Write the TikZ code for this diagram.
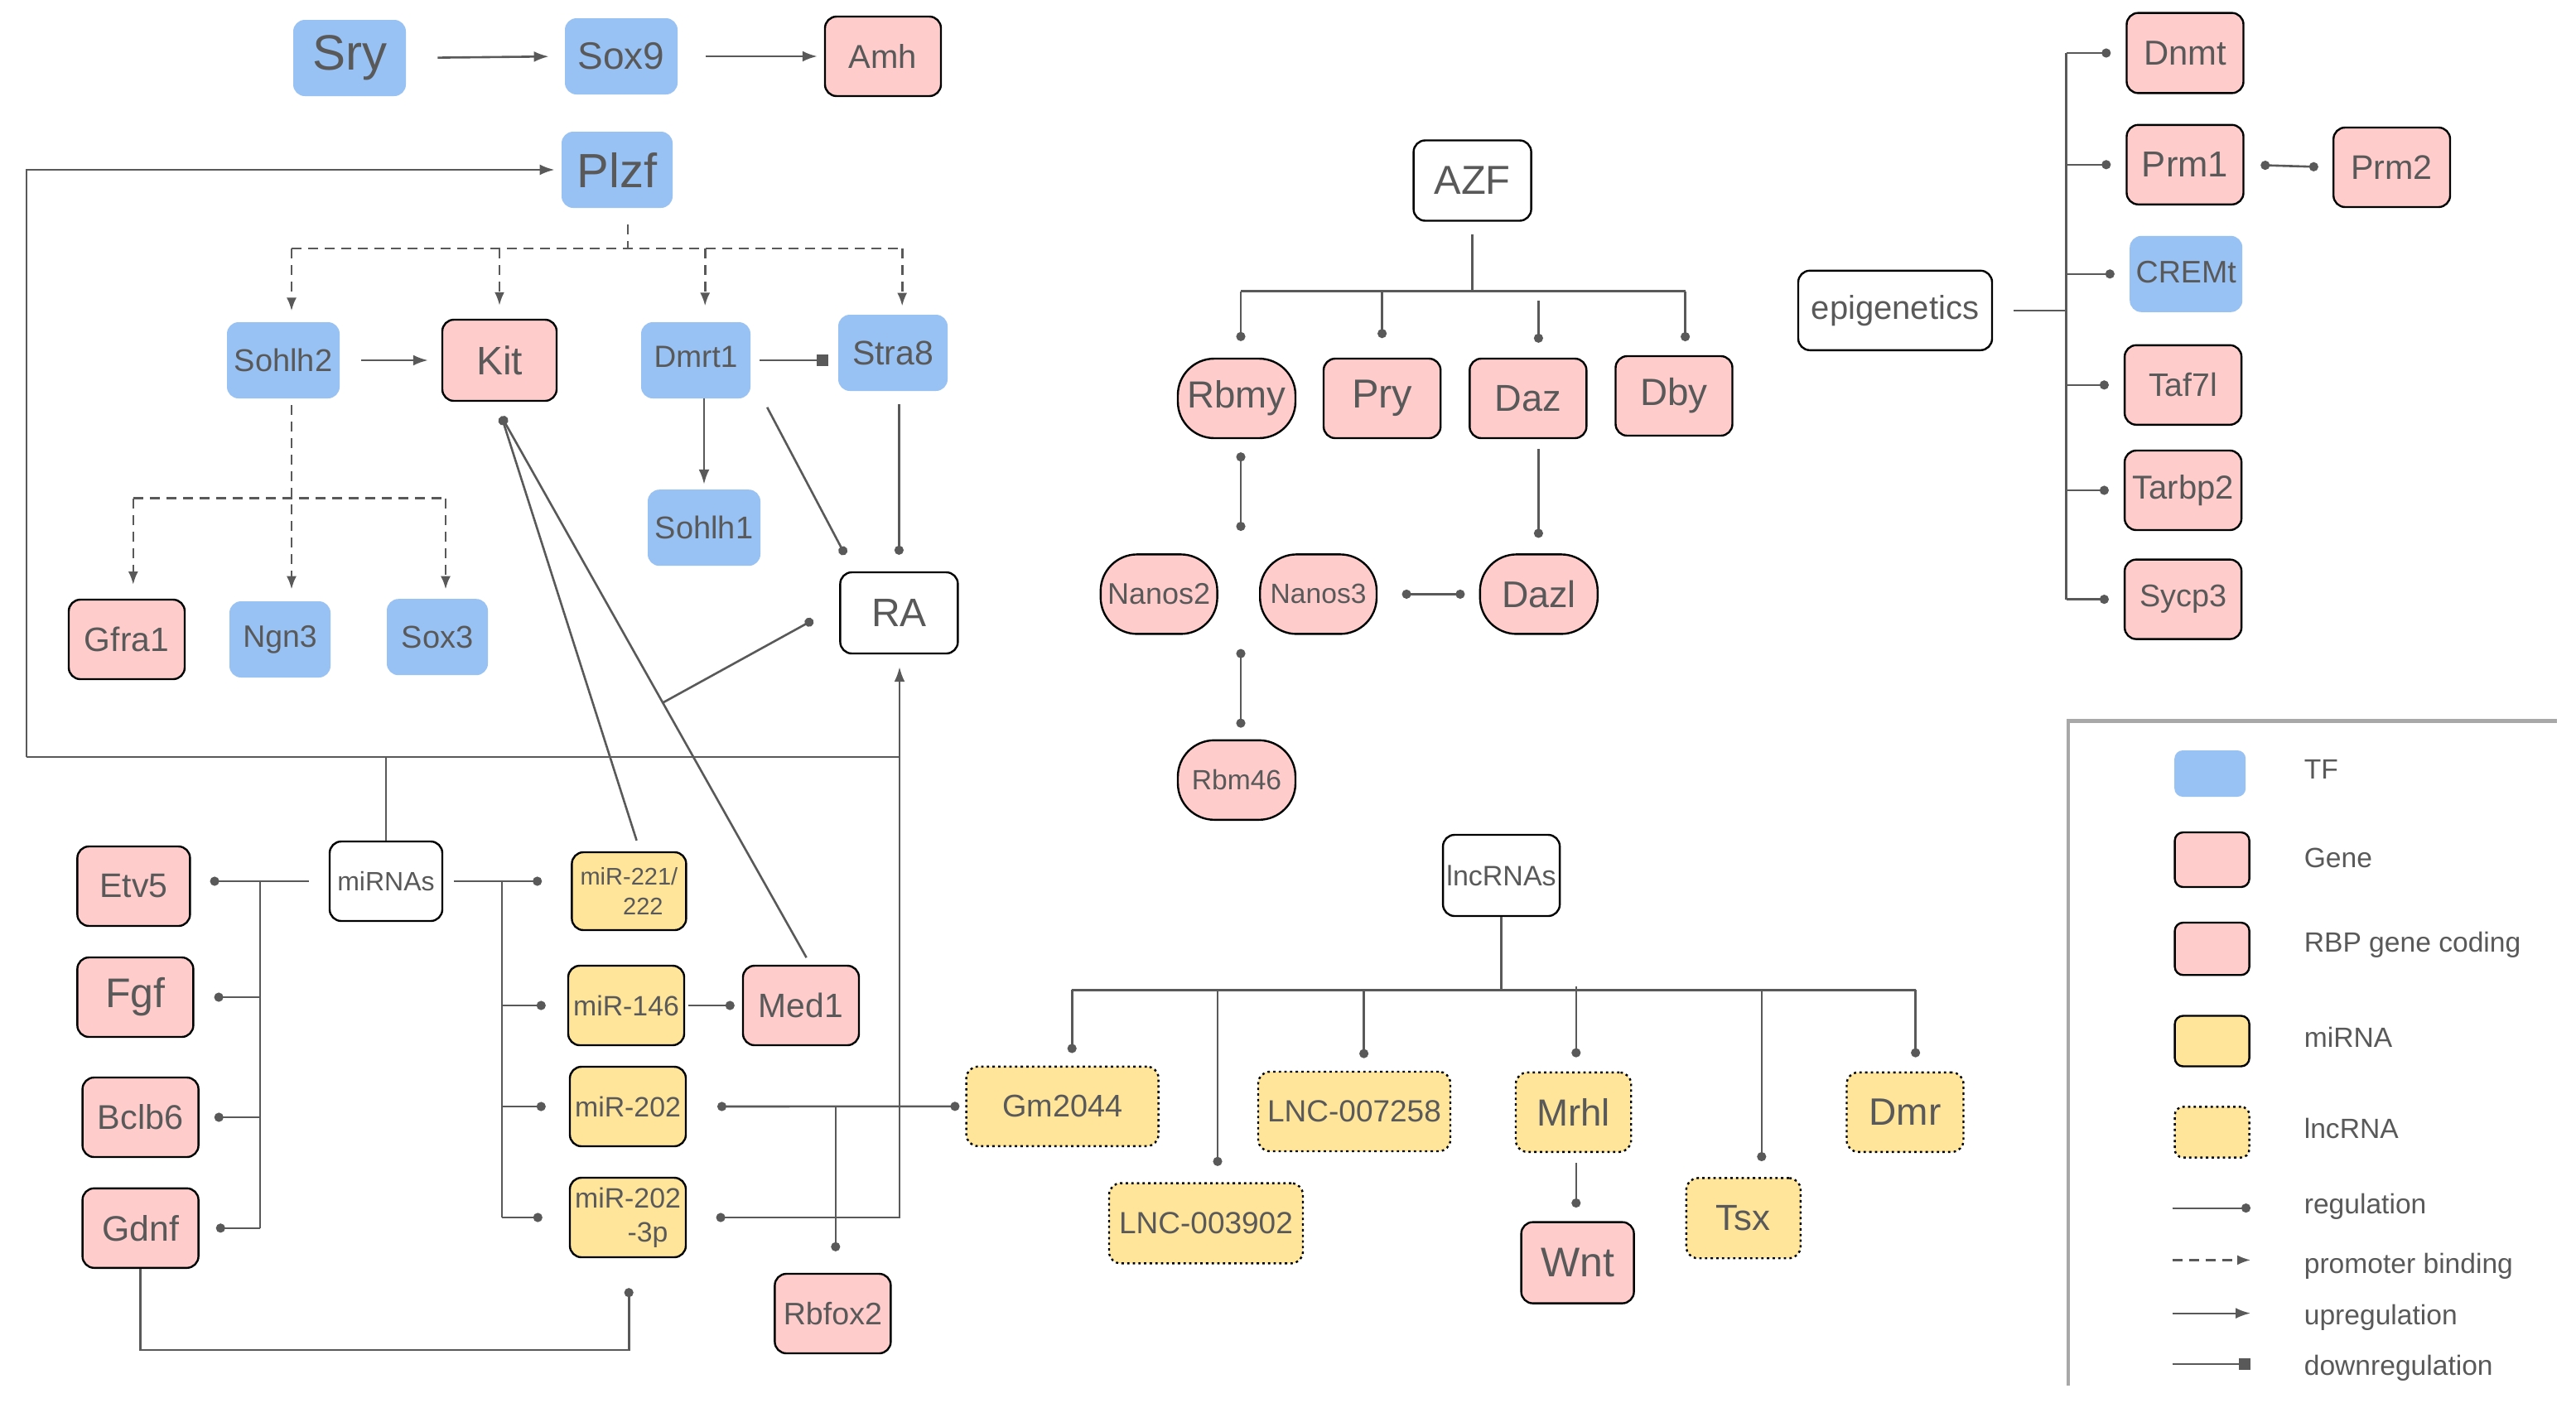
\documentclass[tikz,border=0pt]{standalone}
\usepackage{fontspec}
\setmainfont{Liberation Sans}
\usetikzlibrary{arrows.meta,calc}
\definecolor{tfblue}{HTML}{99C2F4}
\definecolor{gpink}{HTML}{FFCCCC}
\definecolor{myel}{HTML}{FFE599}
\definecolor{txt}{HTML}{595959}
\definecolor{lnc}{HTML}{595959}
\definecolor{framegray}{HTML}{A8A8A8}
\newcommand{\fsz}[1]{\fontsize{#1}{#1}\selectfont}
\begin{document}
\begin{tikzpicture}[x=1pt,y=-1pt,
 bx/.style={rectangle,rounded corners=7pt,inner sep=0pt,align=center,text=txt},
 tf/.style={bx,fill=tfblue},
 gene/.style={bx,fill=gpink,draw=black,line width=1.2pt},
 rbp/.style={gene,rounded corners=22pt},
 mir/.style={bx,fill=myel,draw=black,line width=1.2pt},
 lncbox/.style={bx,fill=myel,draw=black,line width=1.2pt,dash pattern=on 1.4pt off 2pt},
 plain/.style={bx,fill=white,draw=black,line width=1.2pt},
 sz/.style 2 args={minimum width=#1pt,minimum height=#2pt},
 con/.style={draw=lnc,line width=1.3pt},
 reg/.style={con,-{Circle[length=5.5pt]}},
 regb/.style={con,{Circle[length=5.5pt]}-{Circle[length=5.5pt]}},
 up/.style={con,-{Latex[length=9pt,width=6.5pt]}},
 dashln/.style={con,dash pattern=on 6pt off 4pt},
 prom/.style={dashln,-{Latex[length=8pt,width=6pt]}},
 down/.style={con,-{Square[length=7pt,width=7pt]}},
 lgtext/.style={anchor=base west,text=txt,font=\fsz{16.8},inner sep=0pt},
]
\useasboundingbox (0,0) rectangle (1555,846.5);

% ---------------- top-left nodes
\node[tf,sz={68}{46},font=\fsz{30}] (sry) at (211,35) {Sry};
\node[tf,sz={68}{46},font=\fsz{23}] (sox9) at (375,34) {Sox9};
\node[gene,sz={70}{48},font=\fsz{20}] (amh) at (533,34) {Amh};
\node[tf,sz={67}{46},font=\fsz{29}] (plzf) at (372.5,102.5) {Plzf};
\node[tf,sz={68}{46},font=\fsz{19}] (sohlh2) at (171,217.5) {Sohlh2};
\node[gene,sz={69}{49},font=\fsz{24}] (kit) at (301.5,217.5) {Kit};
\node[tf,sz={66}{46},font=\fsz{18.5}] (dmrt1) at (420,217.5) {\raisebox{4.5pt}{Dmrt1}};
\node[tf,sz={66}{46},font=\fsz{20.5}] (stra8) at (539,213) {Stra8};
\node[tf,sz={68}{46},font=\fsz{19}] (sohlh1) at (425,318.6) {Sohlh1};
\node[gene,sz={70}{48},font=\fsz{20.4}] (gfra1) at (76.5,386) {Gfra1};
\node[tf,sz={61}{46},font=\fsz{18.7}] (ngn3) at (169,386) {Ngn3};
\node[tf,sz={61}{46},font=\fsz{19}] (sox3) at (264,384.6) {Sox3};
\node[plain,sz={71}{49},font=\fsz{24}] (ra) at (542.7,370) {RA};

% ---------------- bottom-left nodes
\node[plain,sz={68}{48},font=\fsz{16}] (mirnas) at (233,532) {miRNAs};
\node[gene,sz={68}{48},font=\fsz{20.5}] (etv5) at (80.7,535) {Etv5};
\node[gene,sz={70}{48},font=\fsz{25}] (fgf) at (81.7,602) {Fgf};
\node[gene,sz={70}{48},font=\fsz{20.7}] (bclb6) at (84.8,674.5) {Bclb6};
\node[gene,sz={70}{48},font=\fsz{21.4}] (gdnf) at (84.8,741.4) {Gdnf};
\node[mir,sz={69}{47},font=\fontsize{14.5}{18}\selectfont] (mir221) at (379.7,538) {miR-221/\\\hspace*{17pt}222};
\node[mir,sz={70}{48},font=\fsz{16.9}] (mir146) at (378,607) {miR-146};
\node[gene,sz={70}{48},font=\fsz{20.4}] (med1) at (483.5,607) {Med1};
\node[mir,sz={70}{48},font=\fsz{16.9}] (mir202) at (379,668) {miR-202};
\node[mir,sz={70}{48},font=\fontsize{16.9}{20.5}\selectfont] (mir2023p) at (379,735) {miR-202\\\hspace*{24pt}-3p};
\node[gene,sz={70}{48},font=\fsz{18.8}] (rbfox2) at (502.7,793) {Rbfox2};

% ---------------- AZF group
\node[plain,sz={71}{48.5},font=\fsz{24.4}] (azf) at (888.8,109) {AZF};
\node[rbp,sz={71}{48},font=\fsz{22.8}] (rbmy) at (746.5,240.5) {Rbmy};
\node[gene,sz={70.6}{48},font=\fsz{24.4}] (pry) at (834.3,240.5) {Pry};
\node[gene,sz={70.5}{48},font=\fsz{22.6}] (daz) at (922.4,240.5) {Daz};
\node[gene,sz={70.5}{48},font=\fsz{22.9}] (dby) at (1010.5,239) {Dby};
\node[rbp,sz={70.4}{48},font=\fsz{18}] (nanos2) at (699.6,358.7) {Nanos2};
\node[rbp,sz={70.4}{48},font=\fsz{16.8}] (nanos3) at (795.8,358.7) {Nanos3};
\node[rbp,sz={71}{48},font=\fsz{22.4}] (dazl) at (928.9,358.7) {Dazl};
\node[rbp,sz={71}{48},font=\fsz{16.8}] (rbm46) at (746.5,470.9) {Rbm46};

% ---------------- epigenetics group
\node[plain,sz={117}{48},font=\fsz{20}] (epi) at (1144,187.4) {epigenetics};
\node[gene,sz={70.5}{48.4},font=\fsz{20.9}] (dnmt) at (1319,32) {Dnmt};
\node[gene,sz={70.5}{48},font=\fsz{21.8}] (prm1) at (1319,99.4) {Prm1};
\node[gene,sz={70.4}{48},font=\fsz{20.6}] (prm2) at (1443.8,101) {Prm2};
\node[tf,sz={68}{46},font=\fsz{18.8}] (cremt) at (1319.6,165.4) {\raisebox{2pt}{CREMt}};
\node[gene,sz={70.5}{48},font=\fsz{19.6}] (taf7l) at (1317.8,232.4) {Taf7l};
\node[gene,sz={70.5}{48},font=\fsz{20}] (tarbp2) at (1317.8,296) {Tarbp2};
\node[gene,sz={70.5}{48},font=\fsz{18.9}] (sycp3) at (1317.8,361.8) {Sycp3};

% ---------------- lncRNA group
\node[plain,sz={70.5}{49},font=\fsz{17}] (lncrnas) at (906.3,528.5) {lncRNAs};
\node[lncbox,sz={116}{48},font=\fsz{18.9}] (gm2044) at (641.3,667.9) {Gm2044};
\node[lncbox,sz={117}{48.4},font=\fsz{18.5}] (lnc3902) at (728,738.5) {LNC-003902};
\node[lncbox,sz={116}{48},font=\fsz{18.5}] (lnc7258) at (817.5,671) {LNC-007258};
\node[lncbox,sz={69.6}{48},font=\fsz{22.8}] (mrhl) at (949.8,671.4) {Mrhl};
\node[gene,sz={68}{49},font=\fsz{25}] (wnt) at (952.3,762.3) {Wnt};
\node[lncbox,sz={69}{48.4},font=\fsz{21.9}] (tsx) at (1052.4,735.4) {Tsx};
\node[lncbox,sz={70.5}{48},font=\fsz{23}] (dmr) at (1150,671.4) {Dmr};

% ================= connectors
% top chain
\draw[up,shorten <=19pt,shorten >=9.5pt] (sry.east) -- (sox9.west);
\draw[up,shorten <=17pt,shorten >=4pt] (sox9.east) -- (amh.west);

% big loop
\coordinate (lc) at (16,457);
\coordinate (rc) at (543,457);
\draw[con] (mirnas.north) -- (mirnas.north |- lc);
\draw[con] (lc) -- (rc);
\draw[up,shorten >=4pt] (lc) |- (plzf.west);
\coordinate (r3p) at (543,735);
\draw[con,{Circle[length=5.5pt]}-{Latex[length=9pt,width=6.5pt]},shorten <=17.7pt,shorten >=7.5pt]
  (mir2023p.east) -- (r3p) -- (ra.south -| r3p);

% Plzf promoter binding tree
\coordinate (pzj) at (379,150);
\coordinate (pzl) at (176,150);
\coordinate (pzd) at (425.6,150);
\coordinate (pzr) at (544.6,150);
\draw[dashln,shorten <=10pt] (plzf.south -| pzj) -- (pzj);
\draw[dashln] (pzl) -- (pzr);
\draw[prom,shorten >=6.6pt] (pzl) -- (pzl |- sohlh2.north);
\draw[prom,shorten >=8pt] (kit.north |- pzj) -- (kit.north);
\draw[prom,shorten >=9.6pt] (pzd) -- (pzd |- dmrt1.north);
\draw[prom,shorten >=5pt] (pzr) -- (pzr |- stra8.north);

% Sohlh2 promoter binding tree
\coordinate (s2j) at (176,300.8);
\coordinate (s2l) at (80.4,300.8);
\coordinate (s2r) at (269,300.8);
\draw[prom,shorten <=4pt,shorten >=7pt] (sohlh2.south -| s2j) -- (s2j |- ngn3.north);
\draw[dashln] (s2l) -- (s2r);
\draw[prom,shorten >=8.4pt] (s2l) -- (s2l |- gfra1.north);
\draw[prom,shorten >=5.6pt] (s2r) -- (s2r |- sox3.north);

% Sohlh2 -> Kit, Dmrt1 -| Stra8, Dmrt1 -> Sohlh1
\draw[up,shorten <=13pt,shorten >=8pt] (sohlh2.east) -- (kit.west);
\draw[down,shorten <=5.5pt,shorten >=6pt] (dmrt1.east) -- (dmrt1.east -| stra8.west);
\draw[up,shorten >=3pt] (sohlh1.north |- dmrt1.south) -- (sohlh1.north);

% regulation of RA
\draw[reg] ($(dmrt1.south east)+(9.9,5.2)$) -- ($(ra.north west)+(3.5,-10)$);
\draw[reg,shorten <=8pt,shorten >=10pt] (stra8.south -| ra.north) -- (ra.north);

% regulation of Kit
\coordinate (kittip) at ($(kit.south)+(1.2,8.8)$);
\coordinate (m221s) at ($(mir221.north)+(4.6,-6.5)$);
\coordinate (med1s) at ($(med1.north)+(3.3,-4.3)$);
\draw[reg] (m221s) -- (kittip);
\draw[reg] (med1s) -- (kittip);
\draw[reg] ($(med1s)!0.471!(kittip)$) -- ($(ra.west)+(-15.8,4.3)$);

% miRNAs left bus
\coordinate (lb) at (157,532);
\draw[reg,shorten <=12pt,shorten >=11.5pt] (mirnas.west) -- (mirnas.west -| etv5.east);
\draw[con] (lb) -- (lb |- gdnf.east);
\draw[reg,shorten >=12pt] (lb |- fgf.east) -- (fgf.east);
\draw[reg,shorten >=9pt] (lb |- bclb6.east) -- (bclb6.east);
\draw[reg,shorten >=10pt] (lb |- gdnf.east) -- (gdnf.east);

% miRNAs right bus
\coordinate (rb) at (303,532);
\draw[reg,shorten <=6.6pt,shorten >=17.5pt] (mirnas.east) -- (mirnas.east -| mir221.west);
\draw[con] (rb) -- (rb |- mir2023p.west);
\draw[reg,shorten >=13pt] (rb |- mir146.west) -- (mir146.west);
\draw[reg,shorten >=14pt] (rb |- mir202.west) -- (mir202.west);
\draw[reg,shorten >=16pt] (rb |- mir2023p.west) -- (mir2023p.west);

% miR-146 -> Med1, Gm2044 -- miR-202, Rbfox2
\draw[reg,shorten <=2pt,shorten >=4.5pt] (mir146.east) -- (med1.west);
\draw[regb,shorten <=18.4pt,shorten >=3.5pt] (mir202.east) -- (gm2044.west);
\coordinate (rbj) at (504.4,668);
\draw[reg,shorten >=13pt] (rbj) -- (rbj |- rbfox2.north);

% Gdnf loop
\coordinate (gl) at (379.6,815);
\draw[reg,shorten >=18pt] (gdnf.south) |- (gl) -- (gl |- mir2023p.south);

% AZF tree
\coordinate (aj) at (888.8,175.8);
\coordinate (al) at (749,175.8);
\coordinate (ar) at (1017.3,175.8);
\coordinate (adz) at (928.7,175.8);
\draw[con,shorten <=7.6pt] (azf.south) -- (aj);
\draw[con] (al) -- (ar);
\draw[reg,shorten >=10pt] (al) -- (al |- rbmy.north);
\draw[reg,shorten >=11.8pt] (pry.north |- aj) -- (pry.north);
\draw[reg,shorten <=5.6pt,shorten >=9pt] (adz) -- (adz |- daz.north);
\draw[reg,shorten >=8.4pt] (ar) -- (ar |- dby.north);
\draw[regb,shorten <=8pt,shorten >=13.6pt] (al |- rbmy.south) -- (al |- nanos3.north);
\draw[regb,shorten <=14.7pt,shorten >=8.6pt] (nanos3.east) -- (dazl.west);
\draw[reg,shorten <=6pt,shorten >=9.4pt] (adz |- daz.south) -- (adz |- dazl.north);
\draw[regb,shorten <=8.5pt,shorten >=7pt] (al |- nanos3.south) -- (al |- rbm46.north);

% epigenetics tree
\coordinate (eb) at (1247.3,187.4);
\draw[con,shorten <=12.3pt] (epi.east) -- (eb);
\draw[con] (eb |- dnmt.west) -- (eb |- sycp3.west);
\foreach \n in {dnmt,prm1,cremt,taf7l,tarbp2,sycp3}
  \draw[reg,shorten >=9pt] (eb |- \n.west) -- (\n.west);
\draw[regb,shorten <=9.8pt,shorten >=8.6pt] (prm1.east) -- (prm2.west);

% lncRNA tree
\coordinate (lj) at (907.9,597.6);
\coordinate (ll) at (647.1,597.6);
\coordinate (lr) at (1156.3,597.6);
\coordinate (l39) at (735,597.6);
\coordinate (l72) at (823.3,597.6);
\coordinate (lmr) at (951.4,595.3);
\coordinate (lts) at (1063.4,597.6);
\draw[con] (lncrnas.south) -- (lncrnas.south |- lj);
\draw[con] (ll) -- (lr);
\draw[reg,shorten >=7.6pt] (ll) -- (ll |- gm2044.north);
\draw[reg,shorten >=9.8pt] (l39) -- (l39 |- lnc3902.north);
\draw[reg,shorten >=7.6pt] (l72) -- (l72 |- lnc7258.north);
\draw[reg,shorten >=8.5pt] (lmr) -- (lmr |- mrhl.north);
\draw[reg,shorten >=9.6pt] (lts) -- (lts |- tsx.north);
\draw[reg,shorten >=8.5pt] (lr) -- (lr |- dmr.north);
\draw[reg,shorten <=6.1pt,shorten >=8.2pt] (lmr |- mrhl.south) -- (lmr |- wnt.north);

% ================= legend
\draw[framegray,line width=2.2pt] (1248.4,836.4) -- (1248.4,435.3) -- (1543.4,435.3);
\node[tf,rounded corners=5pt,sz={43}{28}] (lgtf) at (1334.1,467) {};
\node[gene,rounded corners=5pt,sz={45}{33}] (lggene) at (1335.3,519) {};
\node[gene,rounded corners=5pt,sz={45}{31.6}] (lgrbp) at (1335.3,572.8) {};
\node[mir,rounded corners=5pt,sz={45}{30.5}] (lgmir) at (1335.3,628.5) {};
\node[lncbox,rounded corners=5pt,sz={45}{30.6}] (lglnc) at (1335.3,683.5) {};
\node[lgtext] (ttf) at (1390.7,470.2) {TF};
\node[lgtext] (tgene) at (1390.7,523.5) {Gene};
\node[lgtext] (trbp) at (1390.7,574.8) {RBP gene coding};
\node[lgtext] (tmir) at (1390.7,632.4) {miRNA};
\node[lgtext] (tlnc) at (1390.7,687.1) {lncRNA};
\node[lgtext] (treg) at (1390.7,732.8) {regulation};
\node[lgtext] (tprom) at (1390.7,768.6) {promoter binding};
\node[lgtext] (tup) at (1390.7,799.7) {upregulation};
\node[lgtext] (tdown) at (1390.7,830.3) {downregulation};
\coordinate (lgr1) at (1311.3,729.3);
\coordinate (lgr2) at (1311.3,760.7);
\coordinate (lgr3) at (1311.3,792.8);
\coordinate (lgr4) at (1311.3,823.6);
\draw[reg,line width=1.1pt] (lgr1) -- ++(47.2,0);
\draw[prom,line width=1.1pt] (lgr2) -- ++(47.2,0);
\draw[up,line width=1.1pt] (lgr3) -- ++(47.2,0);
\draw[down,line width=1.1pt] (lgr4) -- ++(47.2,0);
\end{tikzpicture}
\end{document}
